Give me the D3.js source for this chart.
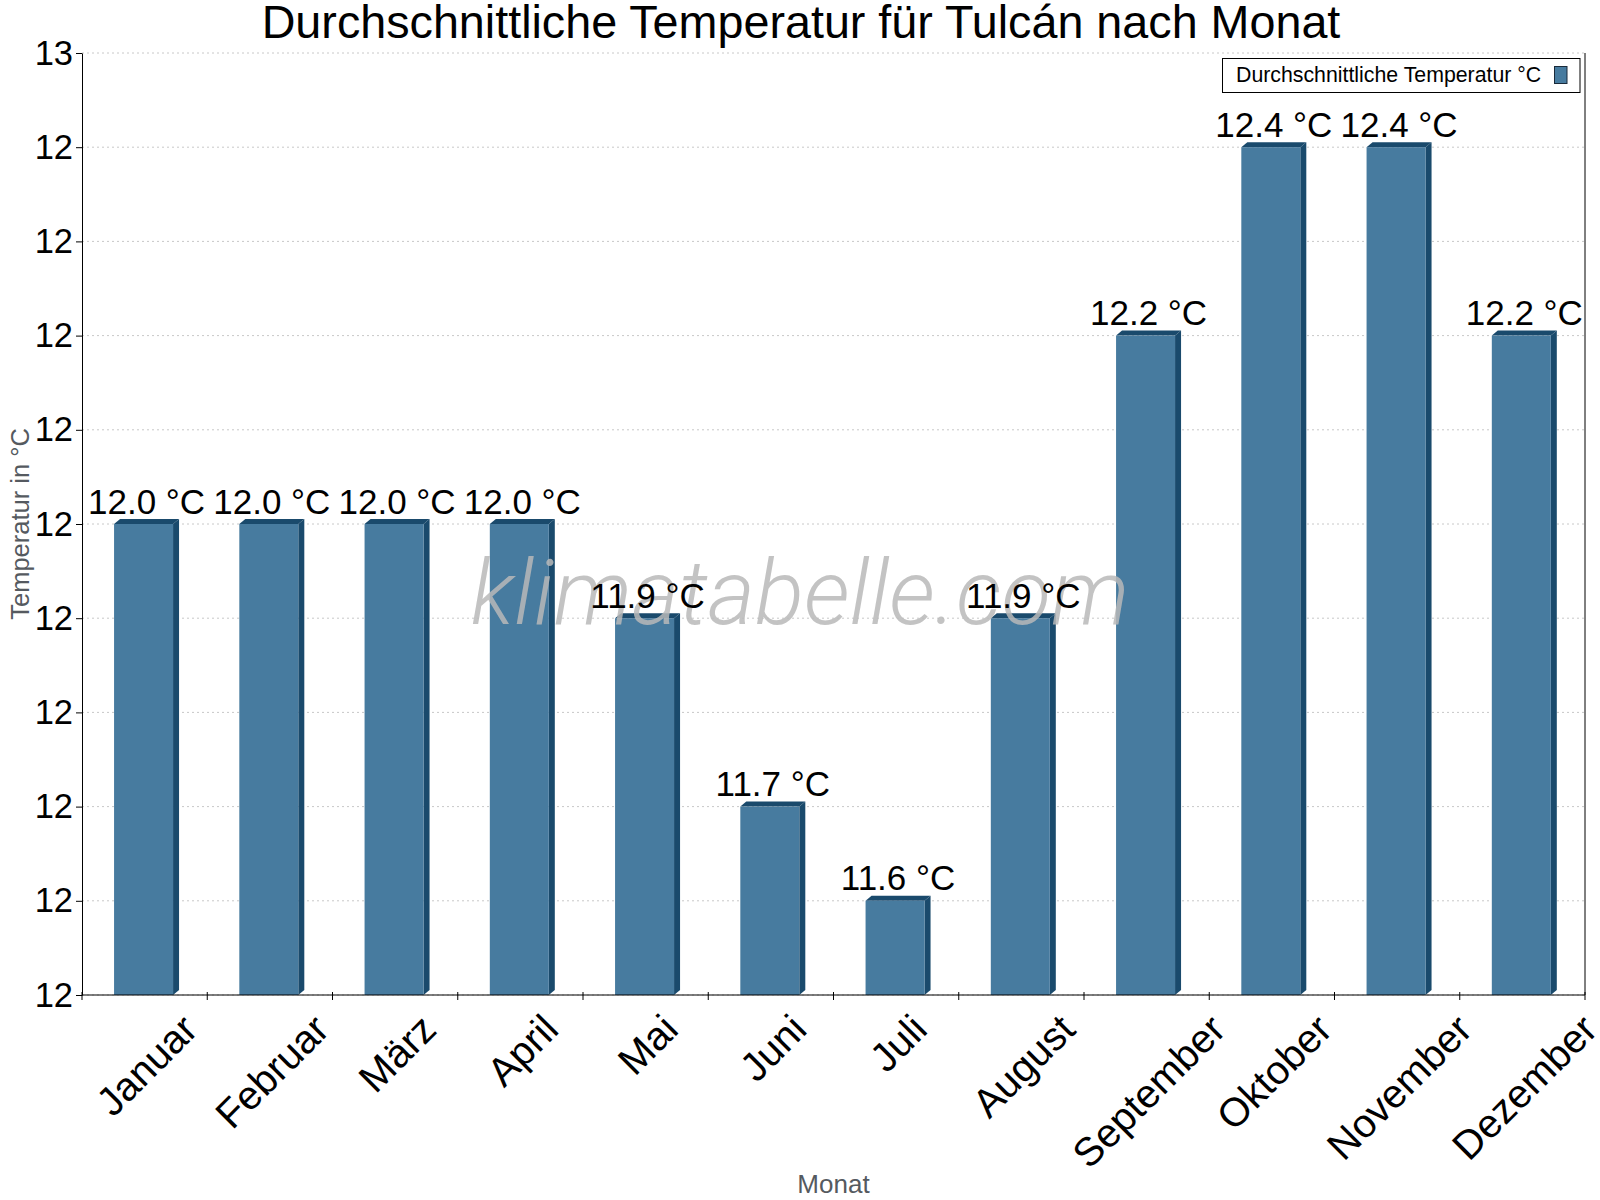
<!DOCTYPE html>
<html>
<head>
<meta charset="utf-8">
<script src="https://cdn.jsdelivr.net/npm/d3@7"></script>
<style>
  html, body { margin: 0; padding: 0; background: #fff; }
  svg { display: block; }
  text { font-family: "Liberation Sans", Arial, sans-serif; }
</style>
</head>
<body>
<script>
const months = ["Januar","Februar","März","April","Mai","Juni","Juli","August","September","Oktober","November","Dezember"];
const temps = [12.0,12.0,12.0,12.0,11.9,11.7,11.6,11.9,12.2,12.4,12.4,12.2];
const yTicks = [11.5,11.6,11.7,11.8,11.9,12.0,12.1,12.2,12.3,12.4,12.5];
const yTickLabels = ["12","12","12","12","12","12","12","12","12","12","13"];
const seriesName = "Durchschnittliche Temperatur °C";
const titleText = "Durchschnittliche Temperatur für Tulcán nach Monat";

(function () {
const W = 1600, H = 1200;
const pLeft = 82, pRight = 1585, pTop = 53, pBottom = 995;
const front = "#477b9f", dark = "#1a4a6c";

const svg = d3.select("body").append("svg").attr("width", W).attr("height", H);

const x = d3.scaleBand().domain(months).range([pLeft, pRight]).padding(0);
const y = d3.scaleLinear().domain([11.5, 12.5]).range([pBottom, pTop]);

// grid
svg.append("g").selectAll("line").data(yTicks).join("line")
  .attr("x1", pLeft).attr("x2", pRight)
  .attr("y1", d => y(d)).attr("y2", d => y(d))
  .attr("stroke", "#c8c8c8").attr("stroke-width", 1).attr("stroke-dasharray", "2,3");

// bars
const bw = x.bandwidth();
const fw = bw * 0.471, dx = 6, dy = 5;
const bars = svg.append("g").selectAll("g").data(months).join("g");
bars.append("polygon")
  .attr("points", (m, i) => {
    const x0 = x(m) + bw * 0.256, yv = y(temps[i]);
    return [[x0 + fw, yv], [x0 + fw + dx, yv - dy], [x0 + fw + dx, y(11.5) - dy], [x0 + fw, y(11.5)]].join(" ");
  }).attr("fill", dark);
bars.append("polygon")
  .attr("points", (m, i) => {
    const x0 = x(m) + bw * 0.256, yv = y(temps[i]);
    return [[x0, yv], [x0 + dx, yv - dy], [x0 + fw + dx, yv - dy], [x0 + fw, yv]].join(" ");
  }).attr("fill", dark);
bars.append("rect")
  .attr("x", m => x(m) + bw * 0.256)
  .attr("y", (m, i) => y(temps[i]))
  .attr("width", fw)
  .attr("height", (m, i) => y(11.5) - y(temps[i]))
  .attr("fill", front);

// watermark
svg.append("text")
  .attr("x", 800).attr("y", 624)
  .attr("text-anchor", "middle")
  .style("font-family", "Roboto, 'Open Sans', sans-serif")
  .style("font-weight", 300).style("font-style", "italic")
  .style("font-size", "91px")
  .attr("fill", "#b9b9b9").attr("fill-opacity", 0.85)
  .text("klimatabelle.com");

// data labels
svg.append("g").selectAll("text").data(months).join("text")
  .attr("x", m => x(m) + bw * 0.256 + (fw + dx) / 2)
  .attr("y", (m, i) => y(temps[i]) - 10.5)
  .attr("text-anchor", "middle")
  .style("font-size", "35px")
  .attr("fill", "#000")
  .text((m, i) => temps[i].toFixed(1) + " °C");

// y axis
const yAxis = svg.append("g").attr("transform", `translate(${pLeft},0)`)
  .call(d3.axisLeft(y).tickValues(yTicks).tickFormat((d, i) => yTickLabels[i]).tickSize(6).tickSizeOuter(0).tickPadding(3));
yAxis.selectAll("text").style("font-size", "34.5px").style("font-family", "'Liberation Sans', Arial, sans-serif").attr("fill", "#000");
yAxis.selectAll("line,path").attr("stroke", "#000");

// x axis
svg.append("line").attr("x1", pLeft).attr("x2", pRight).attr("y1", pBottom).attr("y2", pBottom).attr("stroke", "#000");
svg.append("line").attr("x1", pRight).attr("x2", pRight).attr("y1", pTop).attr("y2", pBottom).attr("stroke", "#000");
const bounds = months.map(m => x(m)).concat([pRight]);
svg.append("g").selectAll("line").data(bounds).join("line")
  .attr("x1", d => d).attr("x2", d => d)
  .attr("y1", pBottom - 3).attr("y2", pBottom + 5)
  .attr("stroke", "#000");

// x labels rotated
const xl = svg.append("g");
months.forEach(m => {
  const t = xl.append("text")
    .attr("text-anchor", "middle")
    .attr("dy", "0.35em")
    .style("font-size", "40px")
    .attr("fill", "#000")
    .text(m);
  const w = t.node().getComputedTextLength();
  const h = 28;
  const cy = 1012 + (w + h) * 0.7071 / 2;
  const cx = x(m) + bw / 2 + 2;
  t.attr("transform", `translate(${cx},${cy}) rotate(-45)`);
});

// axis titles
svg.append("text")
  .attr("transform", `translate(29,${(pTop + pBottom) / 2}) rotate(-90)`)
  .attr("text-anchor", "middle")
  .style("font-size", "25.5px")
  .attr("fill", "#555a60")
  .text("Temperatur in °C");
svg.append("text")
  .attr("x", (pLeft + pRight) / 2).attr("y", 1193)
  .attr("text-anchor", "middle")
  .style("font-size", "26px")
  .attr("fill", "#555a60")
  .text("Monat");

// title
svg.append("text")
  .attr("x", 801).attr("y", 38)
  .attr("text-anchor", "middle")
  .style("font-size", "46.7px")
  .attr("fill", "#000")
  .text(titleText);

// legend
const lg = svg.append("g");
lg.append("rect").attr("x", 1222.5).attr("y", 58.5).attr("width", 357.5).attr("height", 34)
  .attr("fill", "#fff").attr("stroke", "#000");
lg.append("text").attr("x", 1236).attr("y", 82)
  .style("font-size", "21.3px").attr("fill", "#000").text(seriesName);
lg.append("rect").attr("x", 1554.5).attr("y", 66.5).attr("width", 12.5).attr("height", 17)
  .attr("fill", front).attr("stroke", "#1a2a3a");
})();
</script>
</body>
</html>
